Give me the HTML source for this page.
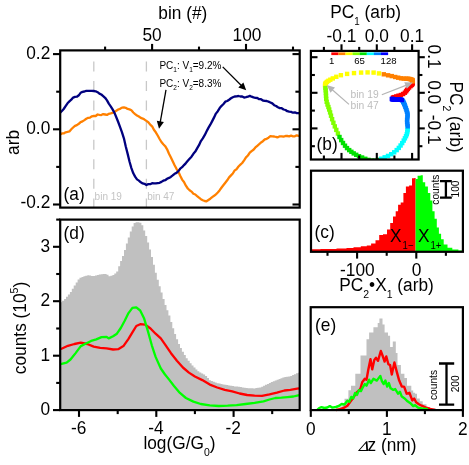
<!DOCTYPE html>
<html><head><meta charset="utf-8"><title>figure</title>
<style>
html,body{margin:0;padding:0;background:#fff;}
svg{display:block;will-change:transform}
text{font-family:"Liberation Sans",sans-serif;fill:#000}
.m{font-size:18.68px}
.s{font-size:10px}
.sub{font-size:11.34px}
.fr{fill:none;stroke:#000;stroke-width:2.2}
.tk{stroke:#000;stroke-width:2.1;fill:none}
</style></head><body>
<svg width="469" height="465" viewBox="0 0 469 465">
<rect width="469" height="465" fill="#fff"/>

<line x1="93.8" y1="61.5" x2="93.8" y2="207.6" stroke="#c8c8c8" stroke-width="1.3" stroke-dasharray="10 9.56"/>
<line x1="146.4" y1="61.5" x2="146.4" y2="207.6" stroke="#c8c8c8" stroke-width="1.3" stroke-dasharray="10 9.56"/>
<text class="s" x="94.6" y="199.5" style="fill:#c4c4c4">bin 19</text>
<text class="s" x="147.2" y="199.5" style="fill:#c4c4c4">bin 47</text>
<polyline points="60.2,134.4 61.9,133.4 63.7,133.4 65.6,132.3 67.5,131.9 69.4,131.4 71.3,129.3 73.1,127.5 75.0,125.8 76.9,125.1 78.8,123.8 80.6,122.1 82.5,121.4 84.4,120.1 86.3,118.7 88.2,117.8 90.0,117.6 91.9,116.3 93.8,116.0 95.7,116.0 97.6,114.5 99.4,114.9 101.3,115.1 103.2,114.1 105.1,114.5 107.0,114.9 108.8,113.8 110.7,113.4 112.6,112.9 114.5,111.9 116.3,110.7 118.2,109.5 120.1,108.8 122.0,107.6 123.9,107.4 125.7,107.8 127.6,108.9 129.5,109.4 131.4,110.3 133.3,112.5 135.1,114.1 137.0,115.5 138.9,116.5 140.8,117.9 142.7,118.6 144.5,119.6 146.4,120.9 148.3,122.2 150.2,124.6 152.1,126.3 153.9,129.8 155.8,132.3 157.7,135.5 159.6,139.0 161.4,142.0 163.3,144.2 165.2,146.2 167.1,149.3 169.0,153.7 170.8,157.2 172.7,161.2 174.6,165.3 176.5,168.8 178.4,171.8 180.2,175.8 182.1,179.6 184.0,182.0 185.9,185.7 187.8,188.5 189.6,190.3 191.5,191.6 193.4,193.7 195.3,194.5 197.1,196.1 199.0,197.7 200.9,199.2 202.8,200.2 204.7,201.0 206.5,201.3 208.4,200.0 210.3,198.7 212.2,197.1 214.1,195.8 215.9,194.3 217.8,192.5 219.7,190.2 221.6,187.5 223.5,185.0 225.3,182.7 227.2,180.3 229.1,177.4 231.0,175.4 232.8,173.5 234.7,170.4 236.6,169.2 238.5,166.5 240.4,164.7 242.2,163.0 244.1,160.4 246.0,157.4 247.9,155.5 249.8,152.7 251.6,151.1 253.5,149.7 255.4,147.4 257.3,145.8 259.2,144.2 261.0,142.5 262.9,141.2 264.8,139.4 266.7,138.8 268.5,137.7 270.4,136.1 272.3,136.3 274.2,136.5 276.1,137.0 277.9,137.3 279.8,136.3 281.7,136.3 283.6,136.7 285.5,136.0 287.3,136.0 289.2,136.3 291.1,135.7 293.0,136.3 294.9,136.3 296.7,135.3 298.6,135.8 299.5,135.8" fill="none" stroke="#ff8000" stroke-width="2.3" stroke-linejoin="round"/>
<polyline points="60.2,112.6 61.9,111.0 63.7,109.0 65.6,106.1 67.5,103.3 69.4,101.4 71.3,99.7 73.1,97.6 75.0,96.9 76.9,96.7 78.8,95.3 80.6,92.8 82.5,91.9 84.4,91.5 86.3,90.8 88.2,90.8 90.0,90.9 91.9,90.8 93.8,91.0 95.7,91.3 97.6,92.2 99.4,93.6 101.3,94.5 103.2,96.1 105.1,97.8 107.0,100.4 108.8,103.6 110.7,106.3 112.6,109.4 114.5,112.9 116.3,117.2 118.2,122.0 120.1,127.1 122.0,132.4 123.9,138.3 125.7,146.3 127.6,153.6 129.5,161.5 131.4,168.1 133.3,173.3 135.1,176.6 137.0,179.4 138.9,180.6 140.8,182.3 142.7,183.4 144.5,183.8 146.4,185.0 148.3,184.1 150.2,184.2 152.1,183.2 153.9,183.4 155.8,183.4 157.7,183.1 159.6,182.8 161.4,181.9 163.3,180.7 165.2,180.2 167.1,178.8 169.0,177.9 170.8,176.9 172.7,175.4 174.6,173.8 176.5,172.9 178.4,171.1 180.2,168.7 182.1,167.2 184.0,165.1 185.9,163.1 187.8,160.8 189.6,158.8 191.5,156.7 193.4,153.8 195.3,151.6 197.1,148.4 199.0,145.2 200.9,141.1 202.8,138.4 204.7,135.2 206.5,131.5 208.4,127.9 210.3,124.7 212.2,121.1 214.1,117.4 215.9,113.6 217.8,111.2 219.7,108.1 221.6,105.8 223.5,104.0 225.3,101.7 227.2,101.0 229.1,99.7 231.0,98.3 232.8,97.3 234.7,96.5 236.6,96.3 238.5,96.0 240.4,96.5 242.2,96.4 244.1,97.5 246.0,97.2 247.9,96.7 249.8,95.9 251.6,96.7 253.5,97.4 255.4,97.8 257.3,98.0 259.2,99.2 261.0,99.2 262.9,100.5 264.8,100.8 266.7,101.0 268.5,101.6 270.4,102.5 272.3,103.4 274.2,105.2 276.1,106.0 277.9,107.3 279.8,108.1 281.7,108.2 283.6,109.5 285.5,110.0 287.3,111.2 289.2,111.7 291.1,111.9 293.0,112.7 294.9,112.3 296.7,113.1 298.6,113.1 299.5,113.4" fill="none" stroke="#00007f" stroke-width="2.3" stroke-linejoin="round"/>
<line class="tk" x1="152.1" y1="50.4" x2="152.1" y2="43.9"/>
<line class="tk" x1="246.0" y1="50.4" x2="246.0" y2="43.9"/>
<line class="tk" x1="105.1" y1="50.4" x2="105.1" y2="46.6"/>
<line class="tk" x1="199.0" y1="50.4" x2="199.0" y2="46.6"/>
<line class="tk" x1="293.0" y1="50.4" x2="293.0" y2="46.6"/>
<line class="tk" x1="60.2" y1="54.1" x2="53.0" y2="54.1"/>
<line class="tk" x1="299.7" y1="54.1" x2="292.5" y2="54.1"/>
<line class="tk" x1="60.2" y1="129.3" x2="53.0" y2="129.3"/>
<line class="tk" x1="299.7" y1="129.3" x2="292.5" y2="129.3"/>
<line class="tk" x1="60.2" y1="204.5" x2="53.0" y2="204.5"/>
<line class="tk" x1="299.7" y1="204.5" x2="292.5" y2="204.5"/>
<line class="tk" x1="60.2" y1="91.7" x2="56.2" y2="91.7"/>
<line class="tk" x1="299.7" y1="91.7" x2="295.4" y2="91.7"/>
<line class="tk" x1="60.2" y1="166.9" x2="56.2" y2="166.9"/>
<line class="tk" x1="299.7" y1="166.9" x2="295.4" y2="166.9"/>
<rect class="fr" x="60.2" y="50.4" width="239.5" height="157.2"/>
<text class="m" transform="translate(182.8,18.5) scale(0.9259,1)" text-anchor="middle">bin (#)</text>
<text class="m" transform="translate(152.1,41.0) scale(0.9259,1)" text-anchor="middle">50</text>
<text class="m" transform="translate(247.0,41.0) scale(0.9259,1)" text-anchor="middle">100</text>
<text class="m" transform="translate(50.3,59.1) scale(0.9259,1)" text-anchor="end">0.2</text>
<text class="m" transform="translate(50.3,134.3) scale(0.9259,1)" text-anchor="end">0.0</text>
<text class="m" transform="translate(50.3,208.3) scale(0.9259,1)" text-anchor="end">-0.2</text>
<text class="m" transform="translate(18.6,142.4) rotate(-90) scale(0.9259,1)" text-anchor="middle">arb</text>
<text class="m" transform="translate(63.6,199.6) scale(0.9259,1)">(a)</text>
<text class="s" x="159.4" y="69.1">PC<tspan dy="3" style="font-size:6.5px">1</tspan><tspan dy="-3">: V</tspan><tspan dy="3" style="font-size:6.5px">1</tspan><tspan dy="-3">=9.2%</tspan></text>
<text class="s" x="159.4" y="87.0">PC<tspan dy="3" style="font-size:6.5px">2</tspan><tspan dy="-3">: V</tspan><tspan dy="3" style="font-size:6.5px">2</tspan><tspan dy="-3">=8.3%</tspan></text>
<line x1="222.7" y1="66.9" x2="241.6" y2="85.7" stroke="#000" stroke-width="1.3"/>
<polygon points="246.2,90.3 238.3,87.6 243.4,82.5" fill="#000"/>
<line x1="166.0" y1="89.8" x2="160.2" y2="122.3" stroke="#000" stroke-width="1.3"/>
<polygon points="159.0,128.7 156.8,120.7 163.9,122.0" fill="#000"/>
<polygon points="60.2,302.3 62.1,302.3 62.1,300.7 64.1,300.7 64.1,299.1 66.0,299.1 66.0,296.8 67.9,296.8 67.9,294.4 69.9,294.4 69.9,291.9 71.8,291.9 71.8,288.7 73.7,288.7 73.7,285.6 75.7,285.6 75.7,282.6 77.6,282.6 77.6,279.6 79.5,279.6 79.5,277.7 81.5,277.7 81.5,276.9 83.4,276.9 83.4,276.2 85.3,276.2 85.3,275.7 87.3,275.7 87.3,275.2 89.2,275.2 89.2,275.4 91.1,275.4 91.1,275.9 93.1,275.9 93.1,276.1 95.0,276.1 95.0,275.6 96.9,275.6 96.9,275.0 98.8,275.0 98.8,274.5 100.8,274.5 100.8,274.3 102.7,274.3 102.7,274.1 104.6,274.1 104.6,273.9 106.6,273.9 106.6,274.7 108.5,274.7 108.5,276.3 110.4,276.3 110.4,275.7 112.4,275.7 112.4,274.9 114.3,274.9 114.3,273.5 116.2,273.5 116.2,271.5 118.2,271.5 118.2,266.3 120.1,266.3 120.1,261.1 122.0,261.1 122.0,256.0 124.0,256.0 124.0,249.9 125.9,249.9 125.9,243.5 127.8,243.5 127.8,237.5 129.8,237.5 129.8,231.6 131.7,231.6 131.7,226.6 133.6,226.6 133.6,222.9 135.6,222.9 135.6,222.2 137.5,222.2 137.5,222.2 139.4,222.2 139.4,222.7 141.4,222.7 141.4,225.3 143.3,225.3 143.3,230.4 145.2,230.4 145.2,236.1 147.2,236.1 147.2,242.5 149.1,242.5 149.1,249.4 151.0,249.4 151.0,257.1 153.0,257.1 153.0,264.8 154.9,264.8 154.9,272.7 156.8,272.7 156.8,279.8 158.8,279.8 158.8,286.2 160.7,286.2 160.7,292.6 162.6,292.6 162.6,299.0 164.6,299.0 164.6,305.0 166.5,305.0 166.5,310.3 168.4,310.3 168.4,315.6 170.4,315.6 170.4,321.9 172.3,321.9 172.3,328.3 174.2,328.3 174.2,334.0 176.1,334.0 176.1,339.3 178.1,339.3 178.1,344.1 180.0,344.1 180.0,347.9 181.9,347.9 181.9,351.7 183.9,351.7 183.9,354.9 185.8,354.9 185.8,358.2 187.7,358.2 187.7,360.8 189.7,360.8 189.7,363.2 191.6,363.2 191.6,365.6 193.5,365.6 193.5,367.6 195.5,367.6 195.5,369.4 197.4,369.4 197.4,371.2 199.3,371.2 199.3,372.5 201.3,372.5 201.3,373.5 203.2,373.5 203.2,374.4 205.1,374.4 205.1,375.9 207.1,375.9 207.1,378.1 209.0,378.1 209.0,380.2 210.9,380.2 210.9,381.0 212.9,381.0 212.9,381.7 214.8,381.7 214.8,382.5 216.7,382.5 216.7,383.2 218.7,383.2 218.7,383.6 220.6,383.6 220.6,384.0 222.5,384.0 222.5,384.4 224.5,384.4 224.5,384.7 226.4,384.7 226.4,385.1 228.3,385.1 228.3,385.5 230.3,385.5 230.3,385.8 232.2,385.8 232.2,386.1 234.1,386.1 234.1,386.4 236.1,386.4 236.1,386.6 238.0,386.6 238.0,386.8 239.9,386.8 239.9,387.1 241.9,387.1 241.9,387.4 243.8,387.4 243.8,387.7 245.7,387.7 245.7,388.0 247.7,388.0 247.7,388.2 249.6,388.2 249.6,388.2 251.5,388.2 251.5,388.3 253.4,388.3 253.4,388.4 255.4,388.4 255.4,388.1 257.3,388.1 257.3,387.8 259.2,387.8 259.2,387.5 261.2,387.5 261.2,386.7 263.1,386.7 263.1,385.8 265.0,385.8 265.0,384.8 267.0,384.8 267.0,383.9 268.9,383.9 268.9,382.9 270.8,382.9 270.8,381.9 272.8,381.9 272.8,381.2 274.7,381.2 274.7,380.5 276.6,380.5 276.6,379.8 278.6,379.8 278.6,379.0 280.5,379.0 280.5,378.3 282.4,378.3 282.4,377.5 284.4,377.5 284.4,377.0 286.3,377.0 286.3,376.7 288.2,376.7 288.2,376.4 290.2,376.4 290.2,375.9 292.1,375.9 292.1,375.0 294.0,375.0 294.0,374.2 296.0,374.2 296.0,373.3 297.9,373.3 297.9,372.7 299.7,372.7 299.7,410.1 60.2,410.1" fill="#c0c0c0"/>
<polyline points="60.2,349.2 61.5,348.7 67.9,345.8 74.4,344.0 80.8,342.7 87.3,344.0 93.7,346.6 100.2,347.9 106.6,348.4 113.1,349.5 118.2,349.2 123.4,346.1 128.5,338.9 132.4,332.4 136.3,326.0 140.2,324.2 145.3,324.7 150.5,328.5 155.6,333.7 160.8,338.4 165.0,344.3 171.0,353.2 176.9,360.7 182.9,367.5 188.9,372.6 194.9,376.5 202.3,380.1 209.8,384.6 217.2,387.5 224.7,389.9 232.2,391.4 239.6,393.5 247.1,395.0 254.6,395.6 262.0,395.9 269.5,394.4 276.9,392.6 284.4,390.5 290.4,389.9 297.2,388.7 299.5,388.3" fill="none" stroke="#ff0000" stroke-width="2.3" stroke-linejoin="round"/>
<polyline points="60.2,364.1 61.5,363.9 66.6,362.6 70.5,359.5 75.6,353.1 80.8,346.1 86.0,343.5 91.1,340.9 96.3,339.4 101.5,337.1 106.6,336.8 108.7,338.4 113.1,336.3 116.9,333.7 120.8,328.0 124.7,320.8 128.5,313.1 132.4,307.9 136.3,307.4 140.2,310.5 144.0,318.2 147.9,331.1 151.8,345.3 155.6,356.9 160.8,368.5 165.0,374.5 169.5,380.1 174.0,386.0 179.9,392.9 185.9,398.0 193.4,401.6 200.8,404.0 209.8,405.4 218.7,406.0 227.7,405.7 236.6,405.1 245.6,404.0 254.6,402.8 263.5,401.3 269.5,399.5 275.4,398.0 281.4,397.7 287.4,397.1 293.4,396.5 297.2,395.6 299.5,395.2" fill="none" stroke="#00ff00" stroke-width="2.3" stroke-linejoin="round"/>
<line class="tk" x1="60.2" y1="410.1" x2="53.0" y2="410.1"/>
<text class="m" transform="translate(50,415.0) scale(0.9259,1)" text-anchor="end">0</text>
<line class="tk" x1="60.2" y1="355.7" x2="53.0" y2="355.7"/>
<text class="m" transform="translate(50,360.6) scale(0.9259,1)" text-anchor="end">1</text>
<line class="tk" x1="60.2" y1="301.2" x2="53.0" y2="301.2"/>
<text class="m" transform="translate(50,306.1) scale(0.9259,1)" text-anchor="end">2</text>
<line class="tk" x1="60.2" y1="246.8" x2="53.0" y2="246.8"/>
<text class="m" transform="translate(50,251.7) scale(0.9259,1)" text-anchor="end">3</text>
<line class="tk" x1="60.2" y1="382.9" x2="56.2" y2="382.9"/>
<line class="tk" x1="60.2" y1="328.5" x2="56.2" y2="328.5"/>
<line class="tk" x1="60.2" y1="274.0" x2="56.2" y2="274.0"/>
<line class="tk" x1="60.2" y1="219.6" x2="56.2" y2="219.6"/>
<line class="tk" x1="79.0" y1="410.1" x2="79.0" y2="416.90000000000003"/>
<text class="m" transform="translate(78.7,434.2) scale(0.9259,1)" text-anchor="middle">-6</text>
<line class="tk" x1="156.3" y1="410.1" x2="156.3" y2="416.90000000000003"/>
<text class="m" transform="translate(156.0,434.2) scale(0.9259,1)" text-anchor="middle">-4</text>
<line class="tk" x1="233.6" y1="410.1" x2="233.6" y2="416.90000000000003"/>
<text class="m" transform="translate(233.3,434.2) scale(0.9259,1)" text-anchor="middle">-2</text>
<line class="tk" x1="117.7" y1="410.1" x2="117.7" y2="414.1"/>
<line class="tk" x1="194.9" y1="410.1" x2="194.9" y2="414.1"/>
<line class="tk" x1="272.2" y1="410.1" x2="272.2" y2="414.1"/>
<rect class="fr" x="60.2" y="219.6" width="239.5" height="190.50000000000003"/>
<text class="m" transform="translate(63.6,239.2) scale(0.9259,1)">(d)</text>
<text class="m" transform="translate(143.4,449.3) scale(0.9259,1)">log(G/G<tspan class="sub" dy="7">0</tspan><tspan dy="-7">)</tspan></text>
<text class="m" transform="translate(26.2,328) rotate(-90) scale(0.9259,1)" text-anchor="middle">counts (10<tspan class="sub" dy="-8">5</tspan><tspan dy="8">)</tspan></text>
<clipPath id="cb"><rect x="310.9" y="50.9" width="107.70000000000005" height="108.6"/></clipPath>
<g clip-path="url(#cb)">
<rect x="390.8" y="95.3" width="4.4" height="4.4" fill="#ff0000"/>
<rect x="392.1" y="94.9" width="4.4" height="4.4" fill="#ff0000"/>
<rect x="394.1" y="94.2" width="4.4" height="4.4" fill="#ff0000"/>
<rect x="396.3" y="93.5" width="4.4" height="4.4" fill="#ff0000"/>
<rect x="398.7" y="92.8" width="4.4" height="4.4" fill="#ff0000"/>
<rect x="400.9" y="91.8" width="4.4" height="4.4" fill="#ff0000"/>
<rect x="402.7" y="90.5" width="4.4" height="4.4" fill="#ff0000"/>
<rect x="403.9" y="89.1" width="4.4" height="4.4" fill="#ff0000"/>
<rect x="404.8" y="87.8" width="4.4" height="4.4" fill="#ff0000"/>
<rect x="405.7" y="86.6" width="4.4" height="4.4" fill="#ff0000"/>
<rect x="406.9" y="85.3" width="4.4" height="4.4" fill="#ff0000"/>
<rect x="408.4" y="83.9" width="4.4" height="4.4" fill="#ff0000"/>
<rect x="409.6" y="82.8" width="4.4" height="4.4" fill="#ff0000"/>
<rect x="410.3" y="81.9" width="4.4" height="4.4" fill="#ff0000"/>
<rect x="410.5" y="81.0" width="4.4" height="4.4" fill="#ff0000"/>
<rect x="410.5" y="80.0" width="4.4" height="4.4" fill="#ff0000"/>
<rect x="410.4" y="79.2" width="4.4" height="4.4" fill="#ff8000"/>
<rect x="410.5" y="78.6" width="4.4" height="4.4" fill="#ff8000"/>
<rect x="410.4" y="78.1" width="4.4" height="4.4" fill="#ff8000"/>
<rect x="409.9" y="77.6" width="4.4" height="4.4" fill="#ff8000"/>
<rect x="408.9" y="77.2" width="4.4" height="4.4" fill="#ff8000"/>
<rect x="407.9" y="76.9" width="4.4" height="4.4" fill="#ff8000"/>
<rect x="406.8" y="76.7" width="4.4" height="4.4" fill="#ff8000"/>
<rect x="405.4" y="76.5" width="4.4" height="4.4" fill="#ff8000"/>
<rect x="403.7" y="76.5" width="4.4" height="4.4" fill="#ff8000"/>
<rect x="401.5" y="76.4" width="4.4" height="4.4" fill="#ff8000"/>
<rect x="398.9" y="76.1" width="4.4" height="4.4" fill="#ff8000"/>
<rect x="396.0" y="75.5" width="4.4" height="4.4" fill="#ff8000"/>
<rect x="393.0" y="74.8" width="4.4" height="4.4" fill="#ff8000"/>
<rect x="389.6" y="73.9" width="4.4" height="4.4" fill="#ff8000"/>
<rect x="385.9" y="73.1" width="4.4" height="4.4" fill="#ff8000"/>
<rect x="381.6" y="72.1" width="4.4" height="4.4" fill="#ff8000"/>
<rect x="376.8" y="71.2" width="4.4" height="4.4" fill="#ffff00"/>
<rect x="371.4" y="70.4" width="4.4" height="4.4" fill="#ffff00"/>
<rect x="365.4" y="70.2" width="4.4" height="4.4" fill="#ffff00"/>
<rect x="358.9" y="70.4" width="4.4" height="4.4" fill="#ffff00"/>
<rect x="351.8" y="70.9" width="4.4" height="4.4" fill="#ffff00"/>
<rect x="344.9" y="71.7" width="4.4" height="4.4" fill="#ffff00"/>
<rect x="338.7" y="73.0" width="4.4" height="4.4" fill="#ffff00"/>
<rect x="334.1" y="74.6" width="4.4" height="4.4" fill="#ffff00"/>
<rect x="330.6" y="76.2" width="4.4" height="4.4" fill="#ffff00"/>
<rect x="328.1" y="77.5" width="4.4" height="4.4" fill="#ffff00"/>
<rect x="326.2" y="78.6" width="4.4" height="4.4" fill="#ffff00"/>
<rect x="324.8" y="79.6" width="4.4" height="4.4" fill="#ffff00"/>
<rect x="323.8" y="80.6" width="4.4" height="4.4" fill="#ffff00"/>
<rect x="323.1" y="81.5" width="4.4" height="4.4" fill="#ffff00"/>
<rect x="322.9" y="82.6" width="4.4" height="4.4" fill="#ffff00"/>
<rect x="322.9" y="84.0" width="4.4" height="4.4" fill="#ffff00"/>
<rect x="323.2" y="85.9" width="4.4" height="4.4" fill="#80ff00"/>
<rect x="323.5" y="88.2" width="4.4" height="4.4" fill="#80ff00"/>
<rect x="323.7" y="90.8" width="4.4" height="4.4" fill="#80ff00"/>
<rect x="323.8" y="93.6" width="4.4" height="4.4" fill="#80ff00"/>
<rect x="324.0" y="96.6" width="4.4" height="4.4" fill="#80ff00"/>
<rect x="324.5" y="99.6" width="4.4" height="4.4" fill="#80ff00"/>
<rect x="325.3" y="102.3" width="4.4" height="4.4" fill="#80ff00"/>
<rect x="326.2" y="104.8" width="4.4" height="4.4" fill="#80ff00"/>
<rect x="327.0" y="107.3" width="4.4" height="4.4" fill="#80ff00"/>
<rect x="327.9" y="110.2" width="4.4" height="4.4" fill="#80ff00"/>
<rect x="328.8" y="113.5" width="4.4" height="4.4" fill="#80ff00"/>
<rect x="329.9" y="117.0" width="4.4" height="4.4" fill="#80ff00"/>
<rect x="331.2" y="120.6" width="4.4" height="4.4" fill="#80ff00"/>
<rect x="332.6" y="124.2" width="4.4" height="4.4" fill="#80ff00"/>
<rect x="334.1" y="127.7" width="4.4" height="4.4" fill="#80ff00"/>
<rect x="335.7" y="131.3" width="4.4" height="4.4" fill="#80ff00"/>
<rect x="337.3" y="134.8" width="4.4" height="4.4" fill="#00e000"/>
<rect x="339.0" y="137.9" width="4.4" height="4.4" fill="#00e000"/>
<rect x="340.8" y="140.8" width="4.4" height="4.4" fill="#00e000"/>
<rect x="342.8" y="143.5" width="4.4" height="4.4" fill="#00e000"/>
<rect x="344.8" y="145.9" width="4.4" height="4.4" fill="#00e000"/>
<rect x="347.0" y="147.9" width="4.4" height="4.4" fill="#00e000"/>
<rect x="349.2" y="149.6" width="4.4" height="4.4" fill="#00e000"/>
<rect x="351.5" y="151.2" width="4.4" height="4.4" fill="#00e000"/>
<rect x="354.0" y="152.6" width="4.4" height="4.4" fill="#00e000"/>
<rect x="356.8" y="154.0" width="4.4" height="4.4" fill="#00e000"/>
<rect x="359.9" y="155.3" width="4.4" height="4.4" fill="#00e000"/>
<rect x="363.1" y="156.6" width="4.4" height="4.4" fill="#00e000"/>
<rect x="366.3" y="157.7" width="4.4" height="4.4" fill="#00e000"/>
<rect x="369.5" y="158.5" width="4.4" height="4.4" fill="#00e000"/>
<rect x="372.6" y="158.5" width="4.4" height="4.4" fill="#00e000"/>
<rect x="375.8" y="157.7" width="4.4" height="4.4" fill="#00e000"/>
<rect x="379.1" y="156.5" width="4.4" height="4.4" fill="#00ffff"/>
<rect x="382.5" y="155.1" width="4.4" height="4.4" fill="#00ffff"/>
<rect x="385.8" y="153.7" width="4.4" height="4.4" fill="#00ffff"/>
<rect x="389.0" y="152.0" width="4.4" height="4.4" fill="#00ffff"/>
<rect x="392.0" y="150.1" width="4.4" height="4.4" fill="#00ffff"/>
<rect x="394.5" y="147.9" width="4.4" height="4.4" fill="#00ffff"/>
<rect x="396.6" y="145.7" width="4.4" height="4.4" fill="#00ffff"/>
<rect x="398.4" y="143.3" width="4.4" height="4.4" fill="#00ffff"/>
<rect x="400.0" y="140.9" width="4.4" height="4.4" fill="#00ffff"/>
<rect x="401.5" y="138.4" width="4.4" height="4.4" fill="#00ffff"/>
<rect x="402.7" y="136.1" width="4.4" height="4.4" fill="#00ffff"/>
<rect x="403.8" y="134.0" width="4.4" height="4.4" fill="#00ffff"/>
<rect x="404.6" y="132.0" width="4.4" height="4.4" fill="#00ffff"/>
<rect x="405.1" y="130.0" width="4.4" height="4.4" fill="#00ffff"/>
<rect x="405.4" y="128.0" width="4.4" height="4.4" fill="#00ffff"/>
<rect x="405.5" y="126.1" width="4.4" height="4.4" fill="#00ffff"/>
<rect x="405.5" y="124.1" width="4.4" height="4.4" fill="#0080ff"/>
<rect x="405.2" y="122.1" width="4.4" height="4.4" fill="#0080ff"/>
<rect x="404.9" y="119.9" width="4.4" height="4.4" fill="#0080ff"/>
<rect x="404.9" y="117.5" width="4.4" height="4.4" fill="#0080ff"/>
<rect x="405.2" y="115.3" width="4.4" height="4.4" fill="#0080ff"/>
<rect x="405.4" y="113.3" width="4.4" height="4.4" fill="#0080ff"/>
<rect x="405.3" y="111.4" width="4.4" height="4.4" fill="#0080ff"/>
<rect x="404.8" y="109.6" width="4.4" height="4.4" fill="#0080ff"/>
<rect x="404.3" y="107.9" width="4.4" height="4.4" fill="#0080ff"/>
<rect x="403.7" y="106.1" width="4.4" height="4.4" fill="#0080ff"/>
<rect x="403.1" y="104.5" width="4.4" height="4.4" fill="#0080ff"/>
<rect x="402.5" y="102.9" width="4.4" height="4.4" fill="#0080ff"/>
<rect x="402.0" y="101.7" width="4.4" height="4.4" fill="#0080ff"/>
<rect x="401.5" y="100.6" width="4.4" height="4.4" fill="#0080ff"/>
<rect x="401.0" y="99.6" width="4.4" height="4.4" fill="#0080ff"/>
<rect x="400.5" y="98.6" width="4.4" height="4.4" fill="#0080ff"/>
<rect x="399.7" y="97.8" width="4.4" height="4.4" fill="#0000ff"/>
<rect x="398.7" y="97.3" width="4.4" height="4.4" fill="#0000ff"/>
<rect x="397.6" y="97.3" width="4.4" height="4.4" fill="#0000ff"/>
<rect x="396.5" y="97.5" width="4.4" height="4.4" fill="#0000ff"/>
<rect x="395.6" y="97.6" width="4.4" height="4.4" fill="#0000ff"/>
<rect x="394.8" y="97.6" width="4.4" height="4.4" fill="#0000ff"/>
<rect x="394.0" y="97.5" width="4.4" height="4.4" fill="#0000ff"/>
<rect x="393.3" y="97.4" width="4.4" height="4.4" fill="#0000ff"/>
<rect x="392.6" y="97.3" width="4.4" height="4.4" fill="#0000ff"/>
<rect x="391.9" y="97.2" width="4.4" height="4.4" fill="#0000ff"/>
<rect x="391.3" y="97.1" width="4.4" height="4.4" fill="#0000ff"/>
<rect x="390.9" y="97.0" width="4.4" height="4.4" fill="#0000ff"/>
<rect x="390.5" y="96.9" width="4.4" height="4.4" fill="#0000ff"/>
<rect x="390.2" y="96.9" width="4.4" height="4.4" fill="#0000ff"/>
<rect x="389.9" y="96.8" width="4.4" height="4.4" fill="#0000ff"/>
<rect x="389.7" y="96.8" width="4.4" height="4.4" fill="#0000ff"/>
</g>
<rect x="331.30" y="52.4" width="7.2" height="2.7" fill="#ff0000"/>
<rect x="338.39" y="52.4" width="7.2" height="2.7" fill="#ff8000"/>
<rect x="345.48" y="52.4" width="7.2" height="2.7" fill="#ffff00"/>
<rect x="352.57" y="52.4" width="7.2" height="2.7" fill="#80ff00"/>
<rect x="359.66" y="52.4" width="7.2" height="2.7" fill="#00e000"/>
<rect x="366.75" y="52.4" width="7.2" height="2.7" fill="#00ffff"/>
<rect x="373.84" y="52.4" width="7.2" height="2.7" fill="#0080ff"/>
<rect x="380.93" y="52.4" width="7.2" height="2.7" fill="#0000ff"/>
<text x="331.7" y="63.7" text-anchor="middle" style="font-size:9.6px">1</text>
<text x="359.6" y="63.7" text-anchor="middle" style="font-size:9.6px">65</text>
<text x="388.6" y="63.7" text-anchor="middle" style="font-size:9.6px">128</text>
<text class="s" x="350.6" y="97.8" style="fill:#bdbdbd;font-size:10.3px">bin 19</text>
<text class="s" x="350.6" y="109.1" style="fill:#bdbdbd;font-size:10.3px">bin 47</text>
<line x1="381.8" y1="94.8" x2="406.5" y2="85.1" stroke="#b4b4b4" stroke-width="1.2"/>
<polygon points="413.0,82.6 406.8,88.7 404.3,82.3" fill="#b4b4b4"/>
<line x1="349.0" y1="104.4" x2="332.0" y2="89.5" stroke="#b4b4b4" stroke-width="1.2"/>
<polygon points="326.7,84.9 335.0,87.6 330.5,92.7" fill="#b4b4b4"/>
<line class="tk" x1="341.5" y1="50.9" x2="341.5" y2="44.3"/>
<line class="tk" x1="341.5" y1="159.5" x2="341.5" y2="152.9"/>
<line class="tk" x1="310.9" y1="128.4" x2="317.5" y2="128.4"/>
<line class="tk" x1="418.6" y1="128.4" x2="424.8" y2="128.4"/>
<line class="tk" x1="376.8" y1="50.9" x2="376.8" y2="44.3"/>
<line class="tk" x1="376.8" y1="159.5" x2="376.8" y2="152.9"/>
<line class="tk" x1="310.9" y1="92.8" x2="317.5" y2="92.8"/>
<line class="tk" x1="418.6" y1="92.8" x2="424.8" y2="92.8"/>
<line class="tk" x1="412.1" y1="50.9" x2="412.1" y2="44.3"/>
<line class="tk" x1="412.1" y1="159.5" x2="412.1" y2="152.9"/>
<line class="tk" x1="310.9" y1="57.2" x2="317.5" y2="57.2"/>
<line class="tk" x1="418.6" y1="57.2" x2="424.8" y2="57.2"/>
<line class="tk" x1="323.9" y1="50.9" x2="323.9" y2="46.9"/>
<line class="tk" x1="323.9" y1="159.5" x2="323.9" y2="155.5"/>
<line class="tk" x1="310.9" y1="146.2" x2="314.9" y2="146.2"/>
<line class="tk" x1="418.6" y1="146.2" x2="422.40000000000003" y2="146.2"/>
<line class="tk" x1="359.2" y1="50.9" x2="359.2" y2="46.9"/>
<line class="tk" x1="359.2" y1="159.5" x2="359.2" y2="155.5"/>
<line class="tk" x1="310.9" y1="110.6" x2="314.9" y2="110.6"/>
<line class="tk" x1="418.6" y1="110.6" x2="422.40000000000003" y2="110.6"/>
<line class="tk" x1="394.4" y1="50.9" x2="394.4" y2="46.9"/>
<line class="tk" x1="394.4" y1="159.5" x2="394.4" y2="155.5"/>
<line class="tk" x1="310.9" y1="75.0" x2="314.9" y2="75.0"/>
<line class="tk" x1="418.6" y1="75.0" x2="422.40000000000003" y2="75.0"/>
<rect class="fr" x="310.9" y="50.9" width="107.70000000000005" height="108.6"/>
<text class="m" transform="translate(316.6,149.6) scale(0.9259,1)">(b)</text>
<text class="m" transform="translate(330.3,18.4) scale(0.9259,1)">PC<tspan class="sub" dy="6.6" style="font-size:10.6px">1</tspan><tspan dy="-6.6"> (arb)</tspan></text>
<text class="m" transform="translate(341.5,41.5) scale(0.9259,1)" text-anchor="middle">-0.1</text>
<text class="m" transform="translate(376.8,41.5) scale(0.9259,1)" text-anchor="middle">0.0</text>
<text class="m" transform="translate(412.1,41.5) scale(0.9259,1)" text-anchor="middle">0.1</text>
<text class="m" transform="translate(428.2,56.6) rotate(90) scale(0.9259,1)" text-anchor="middle">0.1</text>
<text class="m" transform="translate(428.2,92.2) rotate(90) scale(0.9259,1)" text-anchor="middle">0.0</text>
<text class="m" transform="translate(428.2,129.6) rotate(90) scale(0.9259,1)" text-anchor="middle">-0.1</text>
<text class="m" transform="translate(450,81.4) rotate(90) scale(0.9259,1)">PC<tspan class="sub" dy="7">2</tspan><tspan dy="-7"> (arb)</tspan></text>
<polygon points="311.0,249.3 320.5,249.3 320.5,249.0 336.5,249.0 336.5,248.5 346.5,248.5 346.5,248.0 353.5,248.0 353.5,247.3 360.8,247.3 360.8,246.3 366.8,246.3 366.8,245.6 371.1,245.6 371.1,243.5 375.5,243.5 375.5,240.3 379.2,240.3 379.2,234.9 383.0,234.9 383.0,234.2 387.0,234.2 387.0,229.5 390.2,229.5 390.2,223.1 393.0,223.1 393.0,216.6 395.7,216.6 395.7,211.2 398.1,211.2 398.1,204.8 400.7,204.8 400.7,202.6 403.4,202.6 403.4,193.0 405.9,193.0 405.9,186.5 409.1,186.5 409.1,185.4 412.0,185.4 412.0,178.3 414.4,178.3 414.4,177.9 415.6,177.9 415.6,251.8 311.0,251.8" fill="#ff0000"/>
<polygon points="415.6,179.0 417.6,179.0 417.6,175.8 420.6,175.8 420.6,175.3 422.8,175.3 422.8,182.2 425.2,182.2 425.2,186.5 427.9,186.5 427.9,193.0 430.3,193.0 430.3,200.5 432.4,200.5 432.4,211.2 434.6,211.2 434.6,218.8 436.8,218.8 436.8,227.4 438.9,227.4 438.9,233.8 441.1,233.8 441.1,239.2 443.7,239.2 443.7,244.6 447.5,244.6 447.5,247.8 452.3,247.8 452.3,249.5 458.4,249.5 458.4,250.4 461.9,250.4 462.9,251.8 415.6,251.8" fill="#00ff00"/>
<line class="tk" x1="357.1" y1="251.8" x2="357.1" y2="258.6"/>
<text class="m" transform="translate(357.4,275.7) scale(0.9259,1)" text-anchor="middle">-100</text>
<line class="tk" x1="416.3" y1="251.8" x2="416.3" y2="258.6"/>
<text class="m" transform="translate(416.6,275.7) scale(0.9259,1)" text-anchor="middle">0</text>
<line class="tk" x1="327.5" y1="251.8" x2="327.5" y2="255.8"/>
<line class="tk" x1="386.7" y1="251.8" x2="386.7" y2="255.8"/>
<line class="tk" x1="445.9" y1="251.8" x2="445.9" y2="255.8"/>
<rect class="fr" x="311" y="170.7" width="151.89999999999998" height="81.10000000000002"/>
<text class="m" transform="translate(314.6,238.1) scale(0.9259,1)">(c)</text>
<text class="m" transform="translate(390.0,242.0) scale(0.9259,1)">X<tspan class="sub" dx="1" dy="7.2" style="font-size:10.3px">1&#8722;</tspan></text>
<text class="m" transform="translate(418.0,242.0) scale(0.9259,1)">X<tspan class="sub" dx="1" dy="7.2" style="font-size:10.3px">1+</tspan></text>
<path d="M440,181.2H451.8M445.9,181.2V197.6M440,197.6H451.8" stroke="#000" stroke-width="2.3" fill="none"/>
<text transform="translate(439,189.7) rotate(-90)" text-anchor="middle" style="font-size:10.2px">counts</text>
<text transform="translate(459,189) rotate(-90)" text-anchor="middle" style="font-size:10.2px">100</text>
<text class="m" transform="translate(339.2,290.8) scale(0.9259,1)">PC<tspan class="sub" dy="7">2</tspan><tspan dy="-7">&#8226;X</tspan><tspan class="sub" dy="7">1</tspan><tspan dy="-7"> (arb)</tspan></text>
<polygon points="336.0,408.6 339.5,408.6 339.5,406.5 342.5,406.5 342.5,403.0 344.5,403.0 344.5,398.8 348.4,398.8 348.4,390.2 351.0,390.2 351.0,385.7 355.3,385.7 355.3,373.7 360.5,373.7 360.5,355.6 366.5,355.6 366.5,339.3 369.1,339.3 369.1,332.4 373.4,332.4 373.4,327.2 377.7,327.2 377.7,322.9 379.4,322.9 379.4,318.6 382.5,318.6 382.5,324.6 384.6,324.6 384.6,332.4 388.0,332.4 388.0,335.8 390.1,335.8 390.1,347.0 392.8,347.0 392.8,341.5 395.8,341.5 395.8,353.0 397.5,353.0 397.5,365.1 400.9,365.1 400.9,373.7 404.4,373.7 404.4,378.0 407.0,378.0 407.0,385.7 411.3,385.7 411.3,390.5 413.2,390.5 413.2,392.8 415.1,392.8 415.1,393.7 417.0,393.7 417.0,398.5 419.8,398.5 419.8,401.3 422.7,401.3 422.7,404.2 426.5,404.2 426.5,407.0 430.0,407.0 430.0,408.6 436.0,408.6 436.0,409.5 436.0,410.1 336.0,410.1" fill="#c0c0c0"/>
<polyline points="336.0,410.0 340.0,409.3 343.6,408.0 347.4,405.7 350.3,401.7 352.6,398.8 355.1,394.9 357.0,392.1 359.5,390.0 360.5,388.5 362.2,382.3 364.8,378.8 366.5,379.7 368.2,370.2 370.5,359.1 372.2,369.4 374.3,359.9 376.0,357.8 378.0,360.8 380.8,351.0 382.9,356.5 384.6,361.6 386.3,356.5 388.4,364.2 390.1,365.1 391.8,374.5 394.4,362.5 396.6,371.1 399.2,380.6 401.8,386.6 403.5,386.6 404.3,387.1 406.6,393.7 409.4,392.8 412.3,400.4 414.2,398.5 416.1,402.3 418.9,404.2 421.7,405.7 425.5,407.3 430.3,408.8 435.0,409.8" fill="none" stroke="#ff0000" stroke-width="2.4" stroke-linejoin="round"/>
<polyline points="317.5,409.6 319.2,408.0 321.5,407.1 324.4,408.0 327.3,407.5 329.8,406.1 332.1,407.6 335.9,407.0 338.8,406.0 341.7,404.0 344.5,404.5 347.4,400.7 349.3,401.7 351.3,396.9 353.2,398.4 355.1,393.0 357.0,394.9 358.9,390.2 360.9,391.1 362.2,388.5 364.8,384.0 366.5,385.7 369.1,379.7 370.8,383.1 373.4,378.8 376.8,380.6 380.3,375.9 382.0,381.4 383.7,384.0 385.4,380.6 387.2,386.6 388.9,383.1 390.6,388.3 393.3,389.9 395.2,389.0 398.0,393.7 399.9,391.8 401.8,396.6 404.7,398.5 407.5,401.3 410.4,403.2 413.2,406.1 415.1,405.1 418.0,407.6 421.7,408.5 428.0,409.2" fill="none" stroke="#00ff00" stroke-width="2.4" stroke-linejoin="round"/>
<line class="tk" x1="310.8" y1="410.1" x2="310.8" y2="416.90000000000003"/>
<text class="m" transform="translate(310.8,434.9) scale(0.9259,1)" text-anchor="middle">0</text>
<line class="tk" x1="386.9" y1="410.1" x2="386.9" y2="416.90000000000003"/>
<text class="m" transform="translate(386.9,434.9) scale(0.9259,1)" text-anchor="middle">1</text>
<line class="tk" x1="462.9" y1="410.1" x2="462.9" y2="416.90000000000003"/>
<text class="m" transform="translate(462.9,434.9) scale(0.9259,1)" text-anchor="middle">2</text>
<line class="tk" x1="348.8" y1="410.1" x2="348.8" y2="414.1"/>
<line class="tk" x1="424.9" y1="410.1" x2="424.9" y2="414.1"/>
<rect class="fr" x="310.7" y="307.2" width="152.2" height="102.90000000000003"/>
<text class="m" transform="translate(315,331.2) scale(0.9259,1)">(e)</text>
<path d="M439,363.5H454.2M446.5,363.5V404.6M439,404.6H454.2" stroke="#000" stroke-width="2.3" fill="none"/>
<text transform="translate(437,385) rotate(-90)" text-anchor="middle" style="font-size:10.2px">counts</text>
<text transform="translate(459.4,383.8) rotate(-90)" text-anchor="middle" style="font-size:10.2px">200</text>
<path d="M357.9,450.9L366.3,441.2L367.4,441.2L368.1,450.9Z M359.9,450.0L366.3,450.0L365.8,443.2Z" fill="#000" fill-rule="evenodd"/>
<text class="m" transform="translate(367.5,450.7) scale(0.9259,1)">z (nm)</text>
</svg></body></html>
